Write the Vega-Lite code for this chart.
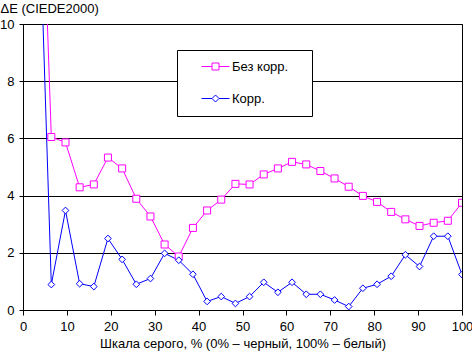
{
  "$schema": "https://vega.github.io/schema/vega-lite/v6.json",
  "width": 439,
  "height": 286,
  "autosize": {"type": "none"},
  "padding": {"left": 23, "top": 24, "right": 10, "bottom": 43},
  "background": "white",
  "config": {
    "font": "Liberation Sans",
    "view": {"stroke": "black", "strokeWidth": 1},
    "axis": {
      "labelFont": "Liberation Sans",
      "labelFontSize": 13,
      "labelColor": "black",
      "titleFont": "Liberation Sans",
      "titleFontSize": 13,
      "titleFontWeight": "normal",
      "titleColor": "black",
      "domainColor": "black",
      "tickColor": "black",
      "gridColor": "black",
      "gridOpacity": 1
    },
    "legend": {
      "labelFont": "Liberation Sans",
      "labelFontSize": 13,
      "labelColor": "black"
    }
  },
  "data": {
    "values": [
      {"x": 3.23, "s": "Без корр.", "v": 20.3},
      {"x": 6.45, "s": "Без корр.", "v": 6.05},
      {"x": 9.68, "s": "Без корр.", "v": 5.86},
      {"x": 12.9, "s": "Без корр.", "v": 4.29},
      {"x": 16.13, "s": "Без корр.", "v": 4.39},
      {"x": 19.35, "s": "Без корр.", "v": 5.33},
      {"x": 22.58, "s": "Без корр.", "v": 4.95},
      {"x": 25.81, "s": "Без корр.", "v": 3.89},
      {"x": 29.03, "s": "Без корр.", "v": 3.27},
      {"x": 32.26, "s": "Без корр.", "v": 2.29},
      {"x": 35.48, "s": "Без корр.", "v": 1.87},
      {"x": 38.71, "s": "Без корр.", "v": 2.87},
      {"x": 41.94, "s": "Без корр.", "v": 3.48},
      {"x": 45.16, "s": "Без корр.", "v": 3.86},
      {"x": 48.39, "s": "Без корр.", "v": 4.41},
      {"x": 51.61, "s": "Без корр.", "v": 4.39},
      {"x": 54.84, "s": "Без корр.", "v": 4.74},
      {"x": 58.06, "s": "Без корр.", "v": 4.95},
      {"x": 61.29, "s": "Без корр.", "v": 5.18},
      {"x": 64.52, "s": "Без корр.", "v": 5.09},
      {"x": 67.74, "s": "Без корр.", "v": 4.86},
      {"x": 70.97, "s": "Без корр.", "v": 4.6},
      {"x": 74.19, "s": "Без корр.", "v": 4.31},
      {"x": 77.42, "s": "Без корр.", "v": 3.99},
      {"x": 80.65, "s": "Без корр.", "v": 3.78},
      {"x": 83.87, "s": "Без корр.", "v": 3.43},
      {"x": 87.1, "s": "Без корр.", "v": 3.17},
      {"x": 90.32, "s": "Без корр.", "v": 2.94},
      {"x": 93.55, "s": "Без корр.", "v": 3.05},
      {"x": 96.77, "s": "Без корр.", "v": 3.12},
      {"x": 100, "s": "Без корр.", "v": 3.75},
      {"x": 3.23, "s": "Корр.", "v": 16.4},
      {"x": 6.45, "s": "Корр.", "v": 0.89},
      {"x": 9.68, "s": "Корр.", "v": 3.48},
      {"x": 12.9, "s": "Корр.", "v": 0.92},
      {"x": 16.13, "s": "Корр.", "v": 0.82},
      {"x": 19.35, "s": "Корр.", "v": 2.5},
      {"x": 22.58, "s": "Корр.", "v": 1.77},
      {"x": 25.81, "s": "Корр.", "v": 0.9},
      {"x": 29.03, "s": "Корр.", "v": 1.1},
      {"x": 32.26, "s": "Корр.", "v": 1.98},
      {"x": 35.48, "s": "Корр.", "v": 1.74},
      {"x": 38.71, "s": "Корр.", "v": 1.25},
      {"x": 41.94, "s": "Корр.", "v": 0.3},
      {"x": 45.16, "s": "Корр.", "v": 0.47},
      {"x": 48.39, "s": "Корр.", "v": 0.23},
      {"x": 51.61, "s": "Корр.", "v": 0.47},
      {"x": 54.84, "s": "Корр.", "v": 0.97},
      {"x": 58.06, "s": "Корр.", "v": 0.62},
      {"x": 61.29, "s": "Корр.", "v": 0.97},
      {"x": 64.52, "s": "Корр.", "v": 0.55},
      {"x": 67.74, "s": "Корр.", "v": 0.55},
      {"x": 70.97, "s": "Корр.", "v": 0.35},
      {"x": 74.19, "s": "Корр.", "v": 0.12},
      {"x": 77.42, "s": "Корр.", "v": 0.76},
      {"x": 80.65, "s": "Корр.", "v": 0.9},
      {"x": 83.87, "s": "Корр.", "v": 1.18},
      {"x": 87.1, "s": "Корр.", "v": 1.93},
      {"x": 90.32, "s": "Корр.", "v": 1.52},
      {"x": 93.55, "s": "Корр.", "v": 2.58},
      {"x": 96.77, "s": "Корр.", "v": 2.58},
      {"x": 100, "s": "Корр.", "v": 1.24}
    ]
  },
  "encoding": {
    "x": {
      "field": "x",
      "type": "quantitative",
      "scale": {"domain": [0, 100], "nice": false, "zero": false},
      "axis": {
        "title": "Шкала серого, % (0% – черный, 100% – белый)",
        "values": [0, 10, 20, 30, 40, 50, 60, 70, 80, 90, 100],
        "grid": false,
        "tickSize": 5,
        "labelPadding": 5,
        "titlePadding": 4,
        "labelFlush": false,
        "labelOverlap": false
      }
    },
    "y": {
      "field": "v",
      "type": "quantitative",
      "scale": {"domain": [0, 10], "nice": false},
      "axis": {
        "title": "ΔE (CIEDE2000)",
        "values": [0, 2, 4, 6, 8, 10],
        "grid": true,
        "tickSize": 4,
        "labelPadding": 5,
        "titleAngle": 0,
        "titleAlign": "left",
        "titleBaseline": "alphabetic",
        "titleX": -23,
        "titleY": -12,
        "labelFlush": false
      }
    },
    "color": {
      "field": "s",
      "type": "nominal",
      "scale": {"domain": ["Без корр.", "Корр."], "range": ["#FF00FF", "#0000FF"]},
      "legend": {
        "title": null,
        "orient": "none",
        "legendX": 154,
        "legendY": 26,
        "fillColor": "white",
        "strokeColor": "black",
        "padding": 10,
        "rowPadding": 18,
        "symbolOffset": 22,
        "symbolSize": 49,
        "symbolStrokeWidth": 1,
        "labelOffset": 10,
        "encode": {
          "symbols": {
            "update": {
              "shape": {"signal": "datum.value === 'Без корр.' ? 'M-4,0H-1M1,0H4M-1,-1H1V1H-1ZM24,0L24.01,0' : 'M-4,0H-1M1,0H4M-1,0L0,-1L1,0L0,1ZM24,0L24.01,0'"},
              "fill": {"value": "white"},
              "strokeWidth": {"value": 1}
            }
          }
        }
      }
    }
  },
  "layer": [
    {
      "mark": {"type": "line", "strokeWidth": 1, "clip": true}
    },
    {
      "transform": [{"filter": "datum.s === 'Без корр.'"}],
      "mark": {"type": "point", "shape": "square", "filled": false, "fill": "white", "fillOpacity": 1, "opacity": 1, "size": 49, "strokeWidth": 1, "clip": true}
    },
    {
      "transform": [{"filter": "datum.s === 'Корр.'"}],
      "mark": {"type": "point", "shape": "diamond", "filled": false, "fill": "white", "fillOpacity": 1, "opacity": 1, "size": 45, "strokeWidth": 1, "clip": true}
    }
  ]
}
